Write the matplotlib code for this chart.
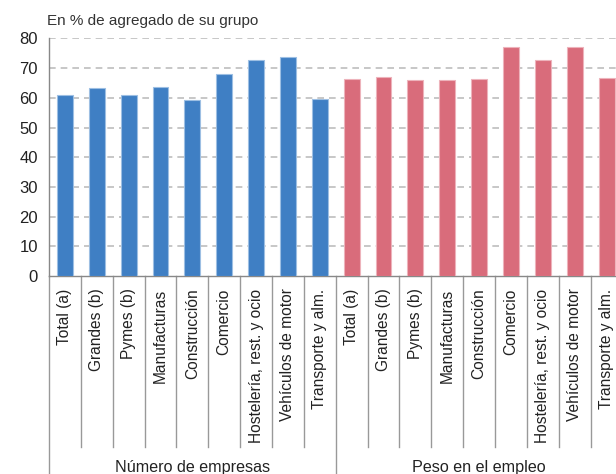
import matplotlib
matplotlib.use('Agg')
import matplotlib.pyplot as plt
import numpy as np

plt.rcParams['font.family'] = ['Liberation Sans', 'DejaVu Sans']

# --- data ---
sectores = ["Total (a)", "Grandes (b)", "Pymes (b)", "Manufacturas", "Construcción",
            "Comercio", "Hostelería, rest. y ocio", "Vehículos de motor", "Transporte y alm."]
grupos = ["Número de empresas", "Peso en el empleo"]
empresas = [61.1, 63.2, 60.9, 63.6, 59.4, 68.2, 72.9, 73.9, 59.5]
empleo = [66.3, 66.9, 65.9, 66.0, 66.3, 77.2, 72.8, 77.3, 66.8]
colores = ["#3F7FC4", "#D96C7B"]
bordes = ["#9DBFE3", "#EDB3BB"]
yticks = [0, 10, 20, 30, 40, 50, 60, 70, 80]

fig = plt.figure(figsize=(6.16, 4.74), dpi=100)
ax = fig.add_axes([0.0795, 0.4177, 0.931, 0.5011])

n = len(sectores)
for g, vals in enumerate([empresas, empleo]):
    xs = np.arange(n) + g * n
    ax.bar(xs, vals, width=0.5, color=colores[g], edgecolor=bordes[g],
           linewidth=0.8, zorder=3)

ax.set_xlim(-0.5, 2 * n - 0.5)
ax.set_ylim(0, 80)
ax.set_yticks(yticks)
ax.tick_params(axis='y', length=0, labelsize=12, colors='#222222', pad=8)
ax.set_xticks(np.arange(2 * n))
ax.set_xticklabels(sectores * 2, rotation=90, fontsize=11.2, color='#222222',
                   va='top')
ax.tick_params(axis='x', length=0, pad=9)

# dashed horizontal grid
for yv in yticks[1:]:
    ax.axhline(yv, color='#bdbdbd', lw=1.2, ls=(0, (4, 3)), zorder=1)

for side in ['top', 'right']:
    ax.spines[side].set_visible(False)
ax.spines['left'].set_color('#888888')
ax.spines['bottom'].set_color('#888888')
ax.spines['left'].set_linewidth(1.0)
ax.spines['bottom'].set_linewidth(1.0)

# category separators below the axis
trans = ax.get_xaxis_transform()
for k in range(1, 2 * n + 1):
    x = k - 0.5
    bottom = -0.84 if k == n else -0.72
    ax.plot([x, x], [0, bottom], transform=trans, color='#999999', lw=1.0,
            clip_on=False)
ax.plot([-0.5, -0.5], [0, -0.84], transform=trans, color='#999999', lw=1.0,
        clip_on=False)

# group labels
for g, nombre in enumerate(grupos):
    ax.text(g * n + (n - 1) / 2, -0.805, nombre, transform=trans, ha='center',
            va='center', fontsize=11.6, color='#222222')

fig.text(0.077, 0.955, "En % de agregado de su grupo", fontsize=11,
         color='#333333', ha='left', va='center')

fig.savefig('out.png', dpi=100)
